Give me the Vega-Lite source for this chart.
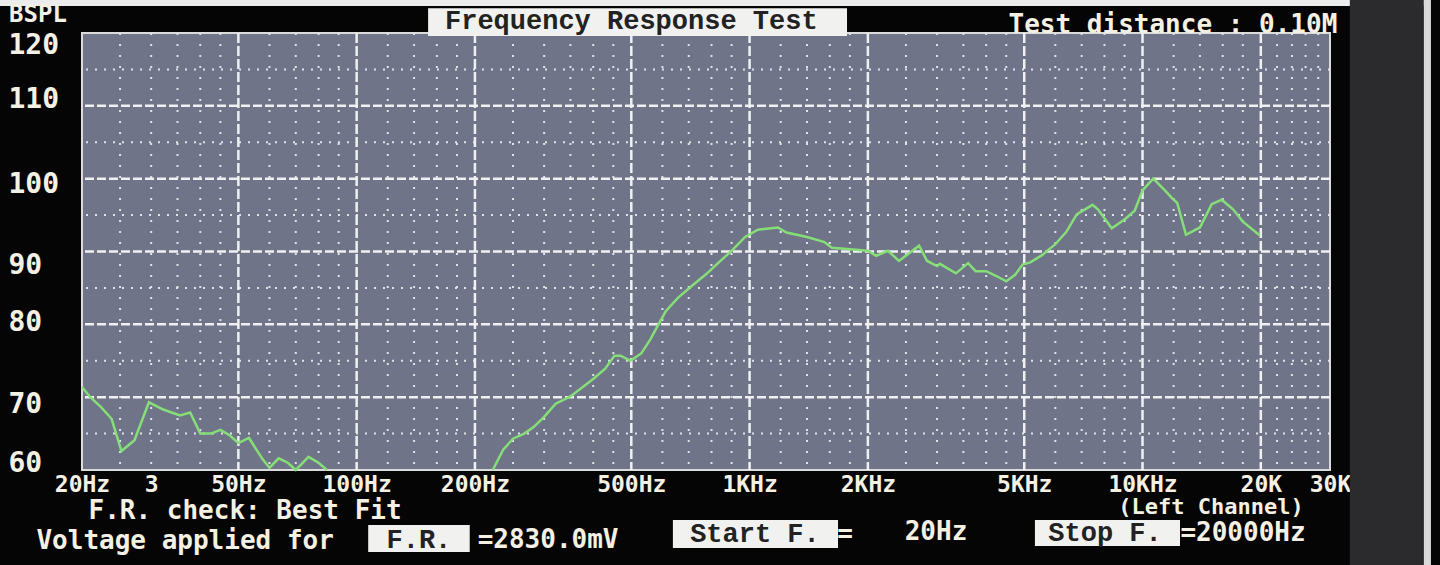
{
  "$schema": "https://vega.github.io/schema/vega-lite/v6.json",
  "autosize": {"type": "none"},
  "width": 1248,
  "height": 437,
  "padding": {"left": 82, "top": 33, "right": 110, "bottom": 95},
  "background": "#050505",
  "config": {
    "view": {"fill": "#6f7488", "stroke": "#dcdcdc", "strokeWidth": 2},
    "axis": {"grid": false, "ticks": false, "domain": false}
  },
  "datasets": {
    "curve": [
      {"f": 20, "db": 71.4, "seg": 1}, {"f": 21, "db": 70.0, "seg": 1}, {"f": 22.4, "db": 68.6, "seg": 1},
      {"f": 23.8, "db": 67.0, "seg": 1}, {"f": 25.2, "db": 62.6, "seg": 1}, {"f": 27.2, "db": 64.1, "seg": 1},
      {"f": 29.6, "db": 69.3, "seg": 1}, {"f": 32.2, "db": 68.3, "seg": 1}, {"f": 35.5, "db": 67.5, "seg": 1},
      {"f": 37.7, "db": 67.9, "seg": 1}, {"f": 40, "db": 65.0, "seg": 1}, {"f": 42.6, "db": 65.0, "seg": 1},
      {"f": 45, "db": 65.5, "seg": 1}, {"f": 47.4, "db": 64.8, "seg": 1}, {"f": 50, "db": 63.7, "seg": 1},
      {"f": 53.2, "db": 64.4, "seg": 1}, {"f": 57.6, "db": 61.5, "seg": 1}, {"f": 60, "db": 60.3, "seg": 1},
      {"f": 63.3, "db": 61.6, "seg": 1}, {"f": 66.8, "db": 61.0, "seg": 1}, {"f": 70, "db": 60.0, "seg": 1},
      {"f": 75.4, "db": 61.8, "seg": 1}, {"f": 80, "db": 61.0, "seg": 1}, {"f": 84, "db": 60.0, "seg": 1},
      {"f": 222, "db": 60.0, "seg": 2}, {"f": 236, "db": 62.8, "seg": 2}, {"f": 250, "db": 64.3, "seg": 2},
      {"f": 267, "db": 65.0, "seg": 2}, {"f": 282, "db": 65.9, "seg": 2}, {"f": 300, "db": 67.3, "seg": 2},
      {"f": 321, "db": 69.1, "seg": 2}, {"f": 350, "db": 70.1, "seg": 2}, {"f": 400, "db": 72.5, "seg": 2},
      {"f": 429, "db": 73.9, "seg": 2}, {"f": 453, "db": 75.7, "seg": 2}, {"f": 470, "db": 75.7, "seg": 2},
      {"f": 497, "db": 75.0, "seg": 2}, {"f": 530, "db": 76.0, "seg": 2}, {"f": 545, "db": 77.0, "seg": 2},
      {"f": 560, "db": 78.0, "seg": 2}, {"f": 577, "db": 79.3, "seg": 2}, {"f": 612, "db": 81.8, "seg": 2},
      {"f": 656, "db": 83.6, "seg": 2}, {"f": 721, "db": 85.5, "seg": 2}, {"f": 776, "db": 86.9, "seg": 2},
      {"f": 835, "db": 88.5, "seg": 2}, {"f": 900, "db": 90.1, "seg": 2}, {"f": 974, "db": 92.0, "seg": 2},
      {"f": 1050, "db": 93.0, "seg": 2}, {"f": 1180, "db": 93.3, "seg": 2}, {"f": 1242, "db": 92.6, "seg": 2},
      {"f": 1400, "db": 92.0, "seg": 2}, {"f": 1550, "db": 91.3, "seg": 2}, {"f": 1620, "db": 90.5, "seg": 2},
      {"f": 1800, "db": 90.3, "seg": 2}, {"f": 2000, "db": 90.1, "seg": 2}, {"f": 2100, "db": 89.4, "seg": 2},
      {"f": 2250, "db": 90.1, "seg": 2}, {"f": 2400, "db": 88.7, "seg": 2}, {"f": 2700, "db": 90.8, "seg": 2},
      {"f": 2830, "db": 88.7, "seg": 2}, {"f": 3000, "db": 88.0, "seg": 2}, {"f": 3050, "db": 88.3, "seg": 2},
      {"f": 3350, "db": 87.0, "seg": 2}, {"f": 3600, "db": 88.4, "seg": 2}, {"f": 3760, "db": 87.3, "seg": 2},
      {"f": 4000, "db": 87.3, "seg": 2}, {"f": 4260, "db": 86.6, "seg": 2}, {"f": 4500, "db": 85.9, "seg": 2},
      {"f": 4740, "db": 86.8, "seg": 2}, {"f": 4950, "db": 88.2, "seg": 2}, {"f": 5180, "db": 88.5, "seg": 2},
      {"f": 5550, "db": 89.5, "seg": 2}, {"f": 6000, "db": 91.0, "seg": 2}, {"f": 6400, "db": 92.7, "seg": 2},
      {"f": 6800, "db": 95.1, "seg": 2}, {"f": 7460, "db": 96.4, "seg": 2}, {"f": 7700, "db": 95.8, "seg": 2},
      {"f": 8350, "db": 93.2, "seg": 2}, {"f": 9000, "db": 94.4, "seg": 2}, {"f": 9550, "db": 95.6, "seg": 2},
      {"f": 10000, "db": 98.4, "seg": 2}, {"f": 10650, "db": 100.0, "seg": 2}, {"f": 11400, "db": 98.4, "seg": 2},
      {"f": 11900, "db": 97.3, "seg": 2}, {"f": 12250, "db": 96.7, "seg": 2}, {"f": 12900, "db": 92.3, "seg": 2},
      {"f": 14000, "db": 93.3, "seg": 2}, {"f": 15000, "db": 96.5, "seg": 2}, {"f": 15900, "db": 97.1, "seg": 2},
      {"f": 17000, "db": 95.8, "seg": 2}, {"f": 18000, "db": 94.1, "seg": 2}, {"f": 19900, "db": 92.2, "seg": 2}
    ],
    "gridx": [
      {"f": 50, "kind": "major"}, {"f": 100, "kind": "major"}, {"f": 200, "kind": "major"}, {"f": 500, "kind": "major"},
      {"f": 1000, "kind": "major"}, {"f": 2000, "kind": "major"}, {"f": 5000, "kind": "major"}, {"f": 10000, "kind": "major"},
      {"f": 20000, "kind": "major"},
      {"f": 25, "kind": "minor"}, {"f": 30, "kind": "minor"}, {"f": 35, "kind": "minor"}, {"f": 40, "kind": "minor"}, {"f": 45, "kind": "minor"},
      {"f": 60, "kind": "minor"}, {"f": 70, "kind": "minor"}, {"f": 80, "kind": "minor"}, {"f": 90, "kind": "minor"},
      {"f": 120, "kind": "minor"}, {"f": 140, "kind": "minor"}, {"f": 160, "kind": "minor"}, {"f": 180, "kind": "minor"},
      {"f": 250, "kind": "minor"}, {"f": 300, "kind": "minor"}, {"f": 350, "kind": "minor"}, {"f": 400, "kind": "minor"}, {"f": 450, "kind": "minor"},
      {"f": 600, "kind": "minor"}, {"f": 700, "kind": "minor"}, {"f": 800, "kind": "minor"}, {"f": 900, "kind": "minor"},
      {"f": 1200, "kind": "minor"}, {"f": 1400, "kind": "minor"}, {"f": 1600, "kind": "minor"}, {"f": 1800, "kind": "minor"},
      {"f": 2500, "kind": "minor"}, {"f": 3000, "kind": "minor"}, {"f": 3500, "kind": "minor"}, {"f": 4000, "kind": "minor"}, {"f": 4500, "kind": "minor"},
      {"f": 6000, "kind": "minor"}, {"f": 7000, "kind": "minor"}, {"f": 8000, "kind": "minor"}, {"f": 9000, "kind": "minor"},
      {"f": 12000, "kind": "minor"}, {"f": 14000, "kind": "minor"}, {"f": 16000, "kind": "minor"}, {"f": 18000, "kind": "minor"},
      {"f": 22000, "kind": "minor"}, {"f": 24000, "kind": "minor"}, {"f": 26000, "kind": "minor"}, {"f": 28000, "kind": "minor"}
    ],
    "gridy": [
      {"db": 70, "kind": "major"}, {"db": 80, "kind": "major"}, {"db": 90, "kind": "major"}, {"db": 100, "kind": "major"}, {"db": 110, "kind": "major"},
      {"db": 65, "kind": "minor"}, {"db": 75, "kind": "minor"}, {"db": 85, "kind": "minor"}, {"db": 95, "kind": "minor"}, {"db": 105, "kind": "minor"}, {"db": 115, "kind": "minor"}
    ],
    "boxes": [
      {"name": "strip", "f": 12, "f2": 52000, "db": 125, "db2": 123.7},
      {"name": "bezel", "f": 33700, "f2": 52000, "db": 125, "db2": 46},
      {"name": "edge", "f": 52000, "f2": 54200, "db": 125, "db2": 46},
      {"name": "label", "f": 152, "f2": 1770, "db": 123.4, "db2": 119.6},
      {"name": "label", "f": 107, "f2": 194, "db": 52.45, "db2": 48.74},
      {"name": "label", "f": 638, "f2": 1679, "db": 53.13, "db2": 49.29},
      {"name": "label", "f": 5323, "f2": 12456, "db": 53.13, "db2": 49.57}
    ],
    "notes": [
      {"role": "top", "text": "BSPL", "f": 15.45, "db": 122.45},
      {"role": "dark", "text": "Frequency Response Test", "f": 500, "db": 121.6},
      {"role": "light", "text": "Test distance : 0.10M", "f": 11950, "db": 121.1},
      {"role": "small", "text": "(Left Channel)", "f": 14940, "db": 54.92},
      {"role": "light", "text": "F.R. check: Best Fit", "f": 52, "db": 54.37},
      {"role": "light", "text": "Voltage applied for", "f": 36.6, "db": 50.25},
      {"role": "dark", "text": "F.R.", "f": 144, "db": 50.4},
      {"role": "light", "text": "=2830.0mV", "f": 307, "db": 50.4},
      {"role": "dark", "text": "Start F.", "f": 1032, "db": 51.2},
      {"role": "light", "text": "=", "f": 1750, "db": 51.2},
      {"role": "light", "text": "20Hz", "f": 2981, "db": 51.5},
      {"role": "dark", "text": "Stop F.", "f": 8027, "db": 51.35},
      {"role": "light", "text": "=20000Hz", "f": 18020, "db": 51.35}
    ]
  },
  "layer": [
    {
      "data": {"name": "boxes"},
      "transform": [{"filter": "datum.name === 'strip'"}],
      "mark": {"type": "rect", "color": "#ececec"},
      "encoding": {
        "x": {"field": "f", "type": "quantitative", "scale": {"type": "log", "domain": [20, 30000]}, "title": null},
        "x2": {"field": "f2"},
        "y": {"field": "db", "type": "quantitative", "scale": {"domain": [60, 120], "nice": false, "zero": false}, "title": null},
        "y2": {"field": "db2"}
      }
    },
    {
      "data": {"name": "boxes"},
      "transform": [{"filter": "datum.name === 'bezel'"}],
      "mark": {"type": "rect", "color": "#2b2b2e"},
      "encoding": {
        "x": {"field": "f", "type": "quantitative", "scale": {"type": "log", "domain": [20, 30000]}, "title": null},
        "x2": {"field": "f2"},
        "y": {"field": "db", "type": "quantitative", "scale": {"domain": [60, 120], "nice": false, "zero": false}, "title": null},
        "y2": {"field": "db2"}
      }
    },
    {
      "data": {"name": "boxes"},
      "transform": [{"filter": "datum.name === 'edge'"}],
      "mark": {"type": "rect", "color": "#d9d9d9"},
      "encoding": {
        "x": {"field": "f", "type": "quantitative", "scale": {"type": "log", "domain": [20, 30000]}, "title": null},
        "x2": {"field": "f2"},
        "y": {"field": "db", "type": "quantitative", "scale": {"domain": [60, 120], "nice": false, "zero": false}, "title": null},
        "y2": {"field": "db2"}
      }
    },
    {
      "data": {"name": "gridx"},
      "transform": [{"filter": "datum.kind === 'minor'"}],
      "mark": {"type": "rule", "color": "#e2e3e8", "strokeWidth": 2, "strokeDash": [2, 9]},
      "encoding": {
        "x": {"field": "f", "type": "quantitative", "scale": {"type": "log", "domain": [20, 30000]}, "title": null}
      }
    },
    {
      "data": {"name": "gridy"},
      "transform": [{"filter": "datum.kind === 'minor'"}],
      "mark": {"type": "rule", "color": "#e2e3e8", "strokeWidth": 2, "strokeDash": [2, 7]},
      "encoding": {
        "y": {"field": "db", "type": "quantitative", "scale": {"domain": [60, 120], "nice": false, "zero": false}, "title": null}
      }
    },
    {
      "data": {"name": "gridx"},
      "transform": [{"filter": "datum.kind === 'major'"}],
      "mark": {"type": "rule", "color": "#f0f0f2", "strokeWidth": 2.5, "strokeDash": [10, 3]},
      "encoding": {
        "x": {"field": "f", "type": "quantitative", "scale": {"type": "log", "domain": [20, 30000]}, "title": null}
      }
    },
    {
      "data": {"name": "gridy"},
      "transform": [{"filter": "datum.kind === 'major'"}],
      "mark": {"type": "rule", "color": "#f0f0f2", "strokeWidth": 2.5, "strokeDash": [9, 3]},
      "encoding": {
        "y": {"field": "db", "type": "quantitative", "scale": {"domain": [60, 120], "nice": false, "zero": false}, "title": null}
      }
    },
    {
      "data": {"name": "curve"},
      "mark": {"type": "line", "color": "#86de78", "strokeWidth": 2.5},
      "encoding": {
        "x": {
          "field": "f", "type": "quantitative", "scale": {"type": "log", "domain": [20, 30000]}, "title": null,
          "axis": {
            "values": [20, 30, 50, 100, 200, 500, 1000, 2000, 5000, 10000, 20000, 30000],
            "labelExpr": "datum.value == 20 ? '20Hz' : datum.value == 30 ? '3' : datum.value == 50 ? '50Hz' : datum.value == 100 ? '100Hz' : datum.value == 200 ? '200Hz' : datum.value == 500 ? '500Hz' : datum.value == 1000 ? '1KHz' : datum.value == 2000 ? '2KHz' : datum.value == 5000 ? '5KHz' : datum.value == 10000 ? '10KHz' : datum.value == 20000 ? '20K' : '30K'",
            "grid": false, "ticks": false, "domain": false,
            "labelFont": "DejaVu Sans Mono", "labelFontWeight": "bold", "labelFontSize": 23,
            "labelColor": "#f4f1e4", "labelPadding": 3, "labelBound": false, "labelOverlap": false,
            "labelFlush": false, "labelAlign": "center", "labelBaseline": "top"
          }
        },
        "y": {
          "field": "db", "type": "quantitative", "scale": {"domain": [60, 120], "nice": false, "zero": false}, "title": null,
          "axis": {
            "values": [60, 70, 80, 90, 100, 110, 120],
            "grid": false, "ticks": false, "domain": false,
            "labelFont": "DejaVu Sans Mono", "labelFontWeight": "bold", "labelFontSize": 28,
            "labelColor": "#f4f1e4", "labelPadding": 74, "labelAlign": "left", "labelBaseline": "middle",
            "labelOffset": {"expr": "datum.value == 120 ? 12 : datum.value == 110 ? -6 : datum.value == 100 ? 6 : datum.value == 90 ? 14 : datum.value == 80 ? -2 : datum.value == 70 ? 7 : -7"},
            "labelBound": false, "labelOverlap": false, "labelFlush": false
          }
        },
        "detail": {"field": "seg", "type": "nominal"}
      }
    },
    {
      "data": {"name": "boxes"},
      "transform": [{"filter": "datum.name === 'label'"}],
      "mark": {"type": "rect", "color": "#f1f1ef"},
      "encoding": {
        "x": {"field": "f", "type": "quantitative", "scale": {"type": "log", "domain": [20, 30000]}, "title": null},
        "x2": {"field": "f2"},
        "y": {"field": "db", "type": "quantitative", "scale": {"domain": [60, 120], "nice": false, "zero": false}, "title": null},
        "y2": {"field": "db2"}
      }
    },
    {
      "data": {"name": "notes"},
      "transform": [{"filter": "datum.role === 'dark'"}],
      "mark": {"type": "text", "color": "#222222", "font": "Liberation Mono", "fontWeight": "bold", "fontSize": 27, "align": "center", "baseline": "middle"},
      "encoding": {
        "x": {"field": "f", "type": "quantitative", "scale": {"type": "log", "domain": [20, 30000]}, "title": null},
        "y": {"field": "db", "type": "quantitative", "scale": {"domain": [60, 120], "nice": false, "zero": false}, "title": null},
        "text": {"field": "text"}
      }
    },
    {
      "data": {"name": "notes"},
      "transform": [{"filter": "datum.role === 'light'"}],
      "mark": {"type": "text", "color": "#f4f1e4", "font": "DejaVu Sans Mono", "fontWeight": "bold", "fontSize": 26, "align": "center", "baseline": "middle"},
      "encoding": {
        "x": {"field": "f", "type": "quantitative", "scale": {"type": "log", "domain": [20, 30000]}, "title": null},
        "y": {"field": "db", "type": "quantitative", "scale": {"domain": [60, 120], "nice": false, "zero": false}, "title": null},
        "text": {"field": "text"}
      }
    },
    {
      "data": {"name": "notes"},
      "transform": [{"filter": "datum.role === 'top'"}],
      "mark": {"type": "text", "color": "#f4f1e4", "font": "DejaVu Sans Mono", "fontWeight": "bold", "fontSize": 24, "align": "center", "baseline": "middle"},
      "encoding": {
        "x": {"field": "f", "type": "quantitative", "scale": {"type": "log", "domain": [20, 30000]}, "title": null},
        "y": {"field": "db", "type": "quantitative", "scale": {"domain": [60, 120], "nice": false, "zero": false}, "title": null},
        "text": {"field": "text"}
      }
    },
    {
      "data": {"name": "notes"},
      "transform": [{"filter": "datum.role === 'small'"}],
      "mark": {"type": "text", "color": "#f4f1e4", "font": "DejaVu Sans Mono", "fontWeight": "bold", "fontSize": 22, "align": "center", "baseline": "middle"},
      "encoding": {
        "x": {"field": "f", "type": "quantitative", "scale": {"type": "log", "domain": [20, 30000]}, "title": null},
        "y": {"field": "db", "type": "quantitative", "scale": {"domain": [60, 120], "nice": false, "zero": false}, "title": null},
        "text": {"field": "text"}
      }
    }
  ]
}
